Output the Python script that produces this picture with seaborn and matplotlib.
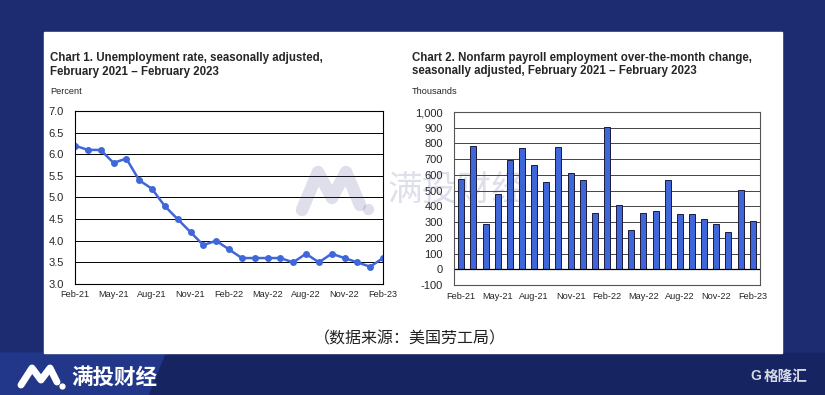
import numpy as np
import pandas as pd
import seaborn as sns
import matplotlib.pyplot as plt
from matplotlib.patches import Rectangle, Polygon
from matplotlib.lines import Line2D

# Data, Feb 2021 - Feb 2023
months = pd.date_range("2021-02-01", "2023-02-01", freq="MS").strftime("%b-%y").tolist()
unemployment_rate = [6.2, 6.1, 6.1, 5.8, 5.9, 5.4, 5.2, 4.8, 4.5, 4.2, 3.9, 4.0, 3.8,
                     3.6, 3.6, 3.6, 3.6, 3.5, 3.7, 3.5, 3.7, 3.6, 3.5, 3.4, 3.6]
payroll_change = [575, 785, 285, 480, 695, 770, 665, 555, 780, 610, 570, 360, 905,
                  410, 250, 360, 370, 565, 350, 350, 320, 290, 235, 505, 310]
tick_months = months[::3]

df = pd.DataFrame({"month": months, "idx": range(len(months)),
                   "rate": unemployment_rate, "jobs": payroll_change})

sns.set_style("white")
plt.rcParams["font.family"] = ["Liberation Sans", "DejaVu Sans"]
CJK = ["Noto Sans CJK SC", "DejaVu Sans"]

W, H = 825, 395
NAVY = "#1d2c71"
BLUE = "#3f67d9"

fig = plt.figure(figsize=(W / 100, H / 100), dpi=100, facecolor=NAVY)


def box(x0, y0, x1, y1):
    # pixel box (from top-left) -> figure fraction rect
    return [x0 / W, 1 - y1 / H, (x1 - x0) / W, (y1 - y0) / H]


def pt(x, y):
    return (x / W, 1 - y / H)


# background pieces
fig.patches.append(Rectangle((0, 0), 1, (H - 353) / H, transform=fig.transFigure,
                             color="#172462", zorder=-10))
fig.patches.append(Polygon([pt(0, 353), pt(165, 353), pt(148, 395), pt(0, 395)],
                           closed=True, transform=fig.transFigure, color="#22368a", zorder=-9))
fig.patches.append(Rectangle(pt(44, 353), 738 / W, 321 / H, transform=fig.transFigure,
                             color="white", zorder=-9))

# Chart 1: unemployment rate
ax1 = fig.add_axes(box(75, 111, 383, 284))
sns.lineplot(data=df, x="idx", y="rate", ax=ax1, color=BLUE, linewidth=1.8,
             marker="o", markersize=5, markeredgewidth=0)
ax1.set_xlim(0, 24)
ax1.set_ylim(3.0, 7.0)
ax1.set_yticks(np.arange(3.0, 7.01, 0.5))
ax1.set_yticklabels([f"{v:.1f}" for v in np.arange(3.0, 7.01, 0.5)], fontsize=8)
ax1.set_xticks(range(0, 25, 3))
ax1.set_xticklabels(tick_months, fontsize=6.6)
ax1.set_xticks(range(25), minor=True)
ax1.tick_params(axis="y", length=0, pad=8)
ax1.tick_params(axis="x", which="both", direction="in", length=3, width=0.8, pad=4)
ax1.grid(axis="y", color="black", linewidth=0.7)
ax1.set_axisbelow(True)
for s in ax1.spines.values():
    s.set_color("black")
    s.set_linewidth(0.8)
ax1.set_xlabel("")
ax1.set_ylabel("")

fig.text(50 / W, 1 - 58 / H, "Chart 1. Unemployment rate, seasonally adjusted,",
         fontsize=8.3, fontweight="bold", va="center")
fig.text(50 / W, 1 - 72 / H, "February 2021 \u2013 February 2023",
         fontsize=8.3, fontweight="bold", va="center")
fig.text(50 / W, 1 - 91 / H, "Percent", fontsize=6.6, va="center")

# Chart 2: nonfarm payroll change
ax2 = fig.add_axes(box(454, 112, 760, 285))
sns.barplot(data=df, x="month", y="jobs", ax=ax2, color=BLUE, saturation=1,
            width=0.5, edgecolor="#1a1a3a", linewidth=0.7)
ax2.set_xlim(-0.6, 24.6)
ax2.set_ylim(-100, 1000)
ax2.set_yticks(range(-100, 1001, 100))
ax2.set_yticklabels([f"{v:,}" for v in range(-100, 1001, 100)], fontsize=8)
ax2.set_xticks(range(0, 25, 3))
ax2.set_xticklabels(tick_months, fontsize=6.6)
ax2.tick_params(axis="both", length=0)
ax2.tick_params(axis="y", pad=8)
ax2.tick_params(axis="x", pad=5)
ax2.grid(axis="y", color="#444444", linewidth=0.7)
ax2.axhline(0, color="black", linewidth=0.9, zorder=1)
ax2.set_axisbelow(True)
for s in ax2.spines.values():
    s.set_color("#555555")
    s.set_linewidth(0.8)
ax2.set_xlabel("")
ax2.set_ylabel("")

fig.text(412 / W, 1 - 58 / H, "Chart 2. Nonfarm payroll employment over-the-month change,",
         fontsize=8.3, fontweight="bold", va="center")
fig.text(412 / W, 1 - 71 / H, "seasonally adjusted, February 2021 \u2013 February 2023",
         fontsize=8.3, fontweight="bold", va="center")
fig.text(412 / W, 1 - 91 / H, "Thousands", fontsize=6.6, va="center")

# caption
fig.text(410 / W, 1 - 339 / H, "（数据来源：美国劳工局）", fontsize=11.5,
         family=CJK, ha="center", va="center", color="#222222")


def m_logo(xs, ys, dot, lw, color, alpha=1.0, z=5):
    fig.lines.append(Line2D([x / W for x in xs], [1 - y / H for y in ys],
                            transform=fig.transFigure, color=color, linewidth=lw,
                            solid_capstyle="round", solid_joinstyle="round",
                            alpha=alpha, zorder=z))
    fig.lines.append(Line2D([dot[0] / W], [1 - dot[1] / H], transform=fig.transFigure,
                            marker="o", markersize=lw * 0.9, color=color,
                            markeredgewidth=0, alpha=alpha, zorder=z))


# watermark
m_logo([302, 318, 332, 346, 360], [210, 172, 198, 172, 205], (368, 209),
       9, "#4a5290", alpha=0.18)
fig.text(388 / W, 1 - 190 / H, "满投财经", fontsize=25, family=CJK,
         color="#4a5290", alpha=0.18, va="center", zorder=5)

# footer logos
m_logo([21, 32, 41, 50, 57], [385, 368, 380, 368, 382], (62, 386), 5, "white")
fig.text(71 / W, 1 - 377 / H, "满投财经", fontsize=15.5, family=CJK,
         fontweight="bold", color="white", va="center")
fig.text(750 / W, 1 - 376 / H, "G", fontsize=10, fontweight="bold", color="#d6d9e6",
         va="center")
fig.text(764 / W, 1 - 376 / H, "格隆汇", fontsize=10.5, family=CJK,
         fontweight="bold", color="#d6d9e6", va="center")

fig.savefig("out.png", dpi=100, facecolor=NAVY)
